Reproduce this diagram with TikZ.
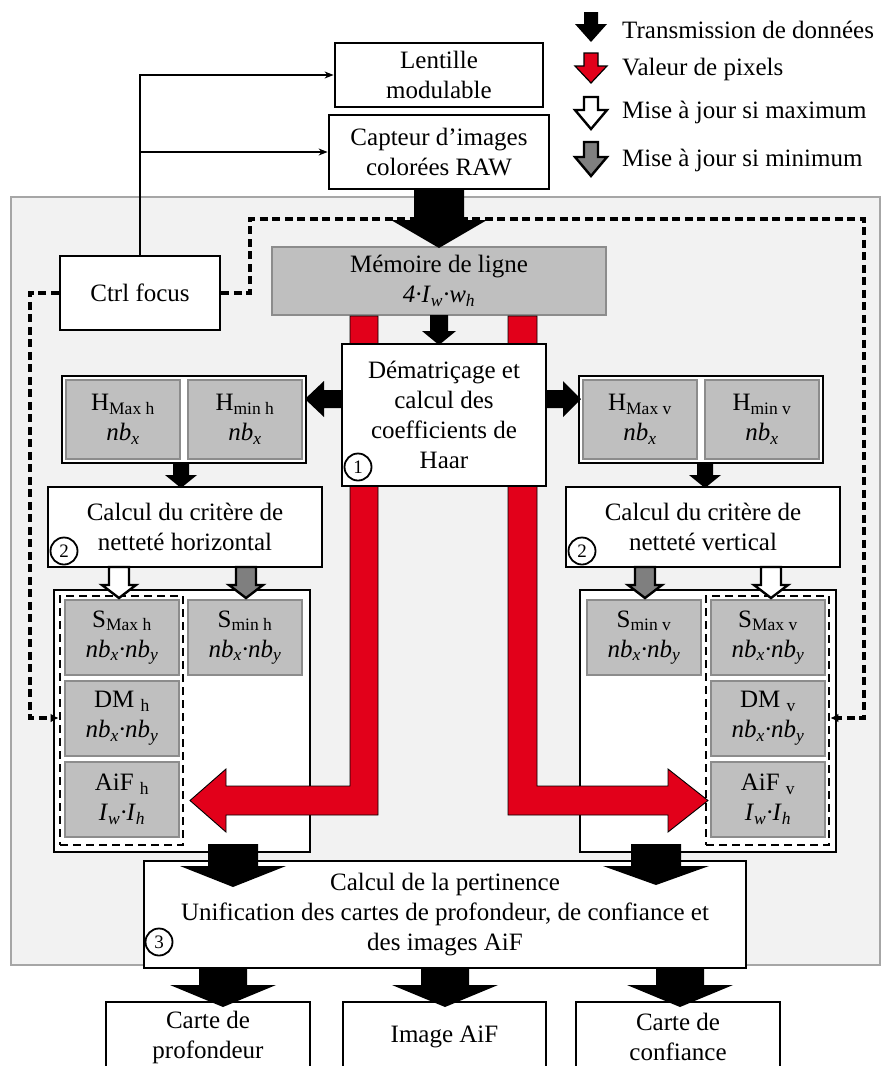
\documentclass[tikz,border=0pt]{standalone}
\usepackage{fontspec}
\setmainfont{Liberation Serif}
\usetikzlibrary{arrows.meta}
\definecolor{bgpanel}{HTML}{F2F2F2}
\definecolor{panelline}{HTML}{A6A6A6}
\definecolor{cellgray}{HTML}{BFBFBF}
\definecolor{cellline}{HTML}{8C8C8C}
\definecolor{pxred}{HTML}{E2001A}
\definecolor{updgray}{HTML}{7F7F7F}
% vertical fat arrow: style, x, ytop, ybase, ytip, shaft half, head half
\newcommand\arrD[7]{\path[#1] ({#2-#6},#3) -- ({#2+#6},#3) -- ({#2+#6},#4) -- ({#2+#7},#4) -- (#2,#5) -- ({#2-#7},#4) -- ({#2-#6},#4) -- cycle;}
% horizontal fat arrow: style, y, xstart, xbase, xtip, shaft half, head half
\newcommand\arrH[7]{\path[#1] (#3,{#2-#6}) -- (#4,{#2-#6}) -- (#4,{#2-#7}) -- (#5,#2) -- (#4,{#2+#7}) -- (#4,{#2+#6}) -- (#3,{#2+#6}) -- cycle;}
\newcommand\sub[1]{\textsubscript{#1}}
\begin{document}
\begin{tikzpicture}[x=1pt,y=-1pt,font=\fontsize{25}{30}\selectfont,
  box/.style={draw, line width=2.8pt, fill=white, inner sep=0pt, align=center},
  cell/.style={draw=cellline, line width=1.5pt, fill=cellgray, inner sep=0pt, align=center},
  dbox/.style={draw, line width=2.9pt, dash pattern=on 8pt off 5pt, inner sep=0pt},
  num/.style={circle, draw, line width=1.8pt, minimum size=27pt, inner sep=0pt, font=\fontsize{19}{19}\selectfont},
  blk/.style={fill=black},
  redarr/.style={fill=pxred, draw=black, line width=0.9pt},
  whitearr/.style={fill=white, draw=black, line width=2.4pt, line join=miter},
  grayarr/.style={fill=updgray, draw=black, line width=2.4pt, line join=miter},
  ctl/.style={line width=1.4pt, -{Stealth[length=9pt,width=7pt]}},
  dashln/.style={line width=3.2pt, dash pattern=on 8pt off 4.5pt, -{Latex[length=8pt,width=9pt]}},
  legtxt/.style={anchor=west, inner sep=0pt}]
\useasboundingbox (0,0) rectangle (884,1066);
\clip (0,0) rectangle (884,1066);
\fill[white] (0,0) rectangle (884,1066);
% panel
\draw[fill=bgpanel, draw=panelline, line width=1.2pt] (11,197) rectangle (880,965);
% legend
\arrD{blk}{591}{12}{24}{42}{7}{16}
\arrD{redarr, line width=1.2pt}{591}{53}{66}{83}{7}{16}
\arrD{whitearr}{591}{97}{110}{129}{7}{16}
\arrD{grayarr}{591}{142}{157}{176}{7}{16}
\node[legtxt] (l1) at (622,30) {Transmission de données};
\node[legtxt] (l2) at (622,69) {Valeur de pixels};
\node[legtxt] (l3) at (622,112) {Mise à jour si maximum};
\node[legtxt] (l4) at (622,160) {Mise à jour si minimum};
% top boxes
\node[box, minimum width=208pt, minimum height=64pt] (lens) at (439,75) {Lentille\\modulable};
\node[box, minimum width=220pt, minimum height=74pt] (sensor) at (439,152) {Capteur d’images\\colorées RAW};
\node[box, minimum width=160pt, minimum height=74pt] (ctrl) at (140,293) {Ctrl focus};
\draw[ctl] (ctrl.north) |- (lens.west);
\draw[ctl] (ctrl.north |- sensor.west) -- (sensor.west);
% memory
\node[cell, minimum width=334pt, minimum height=68pt] (mem) at (439,281) {Mémoire de ligne\\\textit{4·I}\sub{\textit{w}}\textit{·w}\sub{\textit{h}}};
% H blocks
\node[box, minimum width=244pt, minimum height=87pt] (HL) at (184,419.5) {};
\node[cell, minimum width=114pt, minimum height=79pt] (HmaxH) at (123,419.5) {H\sub{Max h}\\\textit{nb}\sub{\textit{x}}};
\node[cell, minimum width=114pt, minimum height=79pt] (HminH) at (245,419.5) {H\sub{min h}\\\textit{nb}\sub{\textit{x}}};
\node[box, minimum width=244pt, minimum height=87pt] (HR) at (701,419.5) {};
\node[cell, minimum width=114pt, minimum height=79pt] (HmaxV) at (640,419.5) {H\sub{Max v}\\\textit{nb}\sub{\textit{x}}};
\node[cell, minimum width=114pt, minimum height=79pt] (HminV) at (762,419.5) {H\sub{min v}\\\textit{nb}\sub{\textit{x}}};
% criterion boxes
\node[box, minimum width=274pt, minimum height=80pt] (calcL) at (185,527) {Calcul du critère de\\netteté horizontal};
\node[box, minimum width=274pt, minimum height=80pt] (calcR) at (703,527) {Calcul du critère de\\netteté vertical};
\node[num] (n2a) at (64,551) {2};
\node[num] (n2b) at (582,551) {2};
% S blocks left
\node[box, minimum width=256pt, minimum height=262pt] (SL) at (182,721) {};
\node[dbox, minimum width=123pt, minimum height=249pt] (SLd) at (121.5,720.5) {};
\node[cell, minimum width=114pt, minimum height=75pt] (SmaxH) at (122,637.5) {S\sub{Max h}\\\textit{nb}\sub{\textit{x}}\textit{·nb}\sub{\textit{y}}};
\node[cell, minimum width=114pt, minimum height=75pt] (SminH) at (245,637.5) {S\sub{min h}\\\textit{nb}\sub{\textit{x}}\textit{·nb}\sub{\textit{y}}};
\node[cell, minimum width=114pt, minimum height=75pt] (DMh) at (122,718.5) {DM \sub{h}\\\textit{nb}\sub{\textit{x}}\textit{·nb}\sub{\textit{y}}};
\node[cell, minimum width=114pt, minimum height=75pt] (AiFh) at (122,799.5) {AiF \sub{h}\\\textit{I}\sub{\textit{w}}\textit{·I}\sub{\textit{h}}};
% S blocks right
\node[box, minimum width=256pt, minimum height=262pt] (SR) at (708,721) {};
\node[dbox, minimum width=123pt, minimum height=249pt] (SRd) at (767.5,720.5) {};
\node[cell, minimum width=114pt, minimum height=75pt] (SminV) at (644,637.5) {S\sub{min v}\\\textit{nb}\sub{\textit{x}}\textit{·nb}\sub{\textit{y}}};
\node[cell, minimum width=114pt, minimum height=75pt] (SmaxV) at (768,637.5) {S\sub{Max v}\\\textit{nb}\sub{\textit{x}}\textit{·nb}\sub{\textit{y}}};
\node[cell, minimum width=114pt, minimum height=75pt] (DMv) at (768,718.5) {DM \sub{v}\\\textit{nb}\sub{\textit{x}}\textit{·nb}\sub{\textit{y}}};
\node[cell, minimum width=114pt, minimum height=75pt] (AiFv) at (768,799.5) {AiF \sub{v}\\\textit{I}\sub{\textit{w}}\textit{·I}\sub{\textit{h}}};
% dashed focus-control feedback
\coordinate (dtl) at (250,219);
\coordinate (dtr) at (864,219);
\coordinate (dbr) at (864,718);
\coordinate (dbl) at (30,718);
\draw[dashln] (ctrl.east) -| (dtl) -- (dtr) -- (dbr) -- (SRd.east |- dbr);
\draw[dashln] (ctrl.west) -| (dbl) -- (SLd.west |- dbl);
% red pixel paths
\path[redarr] (378,316) -- (378,815) -- (226,815) -- (226,832) -- (190,800.5) -- (226,769) -- (226,786) -- (350,786) -- (350,316) -- cycle;
\path[redarr] (508,316) -- (508,815) -- (668,815) -- (668,832) -- (708,800.5) -- (668,769) -- (668,786) -- (537,786) -- (537,316) -- cycle;
% demosaicing box
\node[box, minimum width=204pt, minimum height=142pt] (demat) at (444,415) {Dématriçage et\\calcul des\\coefficients de\\Haar};
\node[num] (n1) at (358,467) {1};
% black transmission arrows
\arrD{blk}{439}{189}{220}{248}{25}{48}
\arrD{blk}{439}{315}{331}{345}{9}{17}
\arrH{blk}{399}{342}{324}{305}{9}{18}
\arrH{blk}{399}{546}{563}{581}{9}{18}
\arrD{blk}{181}{463}{475}{488}{8}{16}
\arrD{blk}{705}{463}{475}{488}{8}{16}
% update arrows
\arrD{whitearr}{119}{567}{585}{598}{10}{17}
\arrD{grayarr}{246}{567}{585}{598}{10}{17}
\arrD{grayarr}{645}{567}{585}{598}{10}{17}
\arrD{whitearr}{771}{567}{585}{598}{10}{17}
% merge box
\node[box, minimum width=602pt, minimum height=107pt] (pert) at (445,914.5) {Calcul de la pertinence\\Unification des cartes de profondeur, de confiance et\\des images AiF};
\node[num] (n3) at (159,942) {3};
\arrD{blk}{233}{844}{866}{887}{25}{53}
\arrD{blk}{656}{844}{866}{885}{25}{53}
% outputs
\node[box, minimum width=204pt, minimum height=70pt] (out1) at (208,1037) {Carte de\\profondeur};
\node[box, minimum width=203pt, minimum height=70pt] (out2) at (444.5,1037) {Image AiF};
\node[box, minimum width=204pt, minimum height=70pt] (out3) at (678,1037) {Carte de\\confiance};
\arrD{blk}{223}{968}{985}{1007}{24}{53}
\arrD{blk}{445}{968}{985}{1007}{24}{53}
\arrD{blk}{680}{968}{985}{1007}{24}{53}
\end{tikzpicture}
\end{document}
